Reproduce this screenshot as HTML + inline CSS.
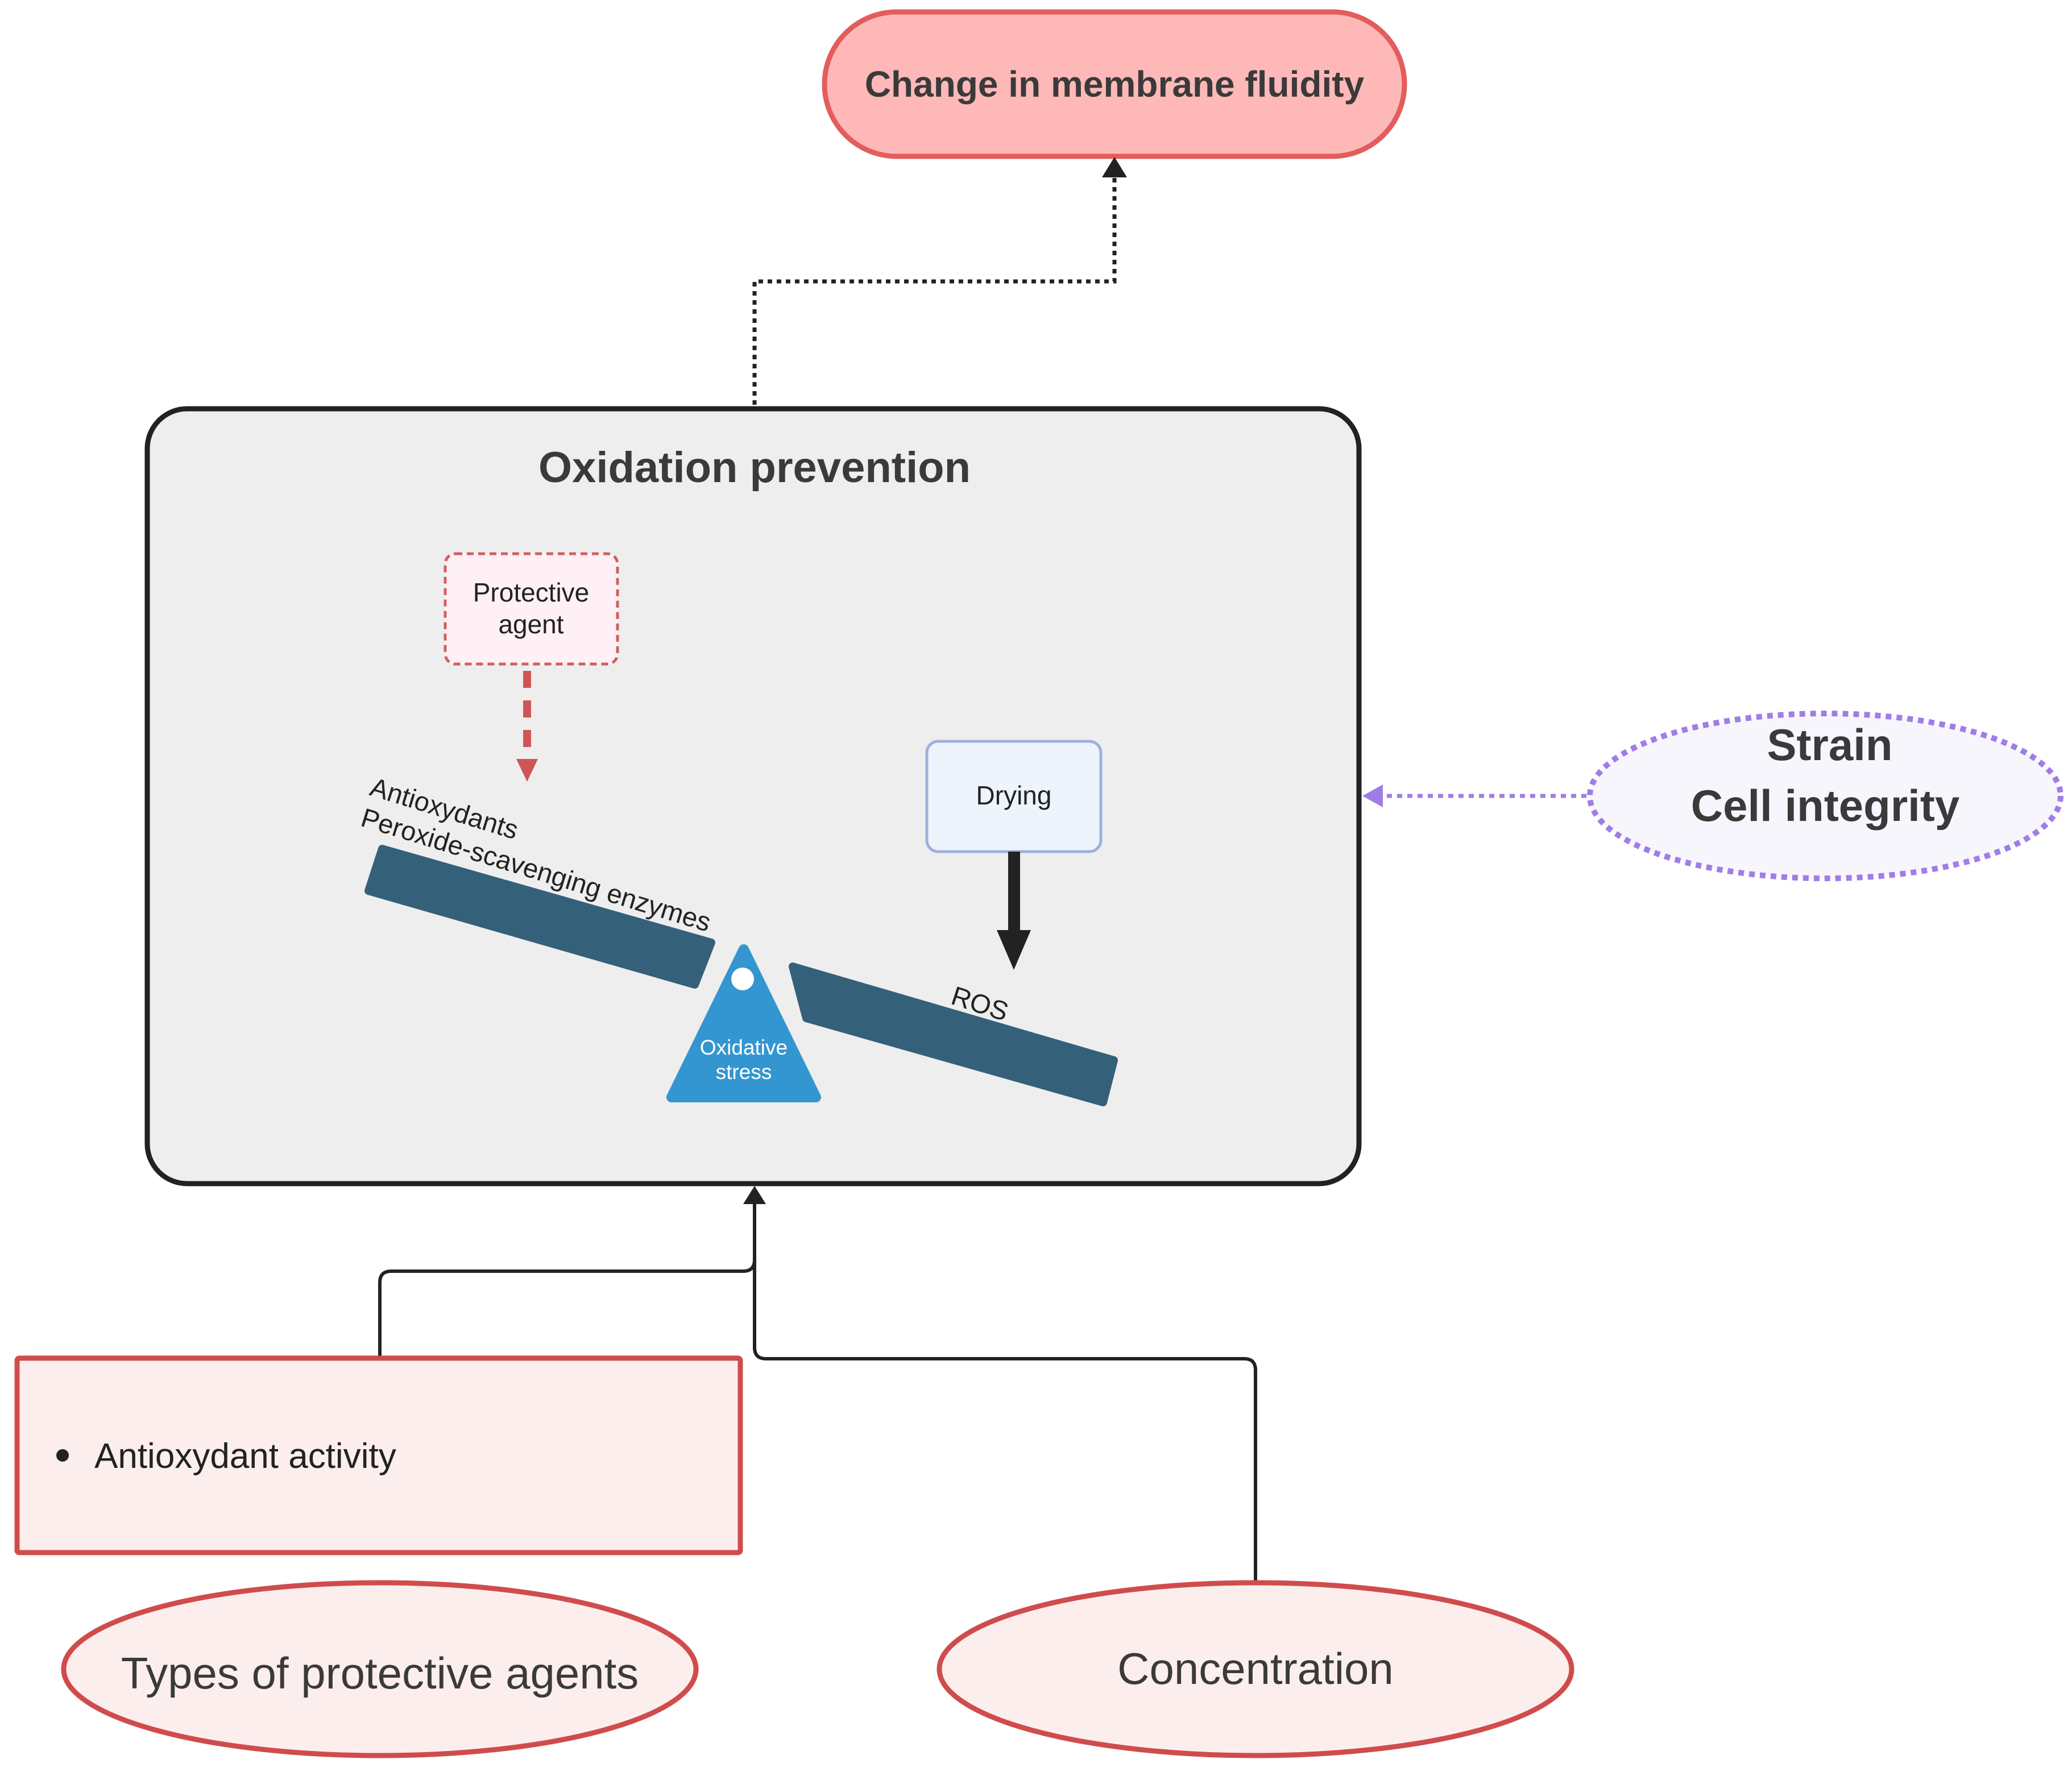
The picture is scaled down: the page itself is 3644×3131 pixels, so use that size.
<!DOCTYPE html>
<html><head><meta charset="utf-8"><style>
html,body{margin:0;padding:0;background:#fff}
svg{display:block}
text{font-family:"Liberation Sans",sans-serif}
</style></head><body>
<svg width="3644" height="3131" viewBox="0 0 3644 3131" xmlns="http://www.w3.org/2000/svg">
<!-- top pill -->
<rect x="1450" y="21" width="1020" height="254" rx="127" fill="#feb8b8" stroke="#e35d5d" stroke-width="9"/>
<text x="1960" y="170" font-size="64" font-weight="bold" fill="#3a3a3a" text-anchor="middle">Change in membrane fluidity</text>
<!-- dotted connector -->
<path d="M1327,712 L1327,495 L1960,495 L1960,310" fill="none" stroke="#222" stroke-width="7" stroke-dasharray="8,8"/>
<path d="M1938,312 L1960,276 L1982,312z" fill="#222"/>
<!-- main box -->
<rect x="259" y="719" width="2131" height="1363" rx="70" fill="#eeeeee" stroke="#222" stroke-width="9"/>
<text x="1327" y="848" font-size="76" font-weight="bold" fill="#3a3a3a" text-anchor="middle">Oxidation prevention</text>
<!-- protective agent -->
<rect x="783" y="974" width="303" height="194" rx="18" fill="#fff0f6" stroke="#d06060" stroke-width="5" stroke-dasharray="12,8"/>
<text x="934" y="1058" font-size="46" fill="#222" text-anchor="middle">Protective</text>
<text x="934" y="1114" font-size="46" fill="#222" text-anchor="middle">agent</text>
<line x1="927" y1="1180" x2="927" y2="1335" stroke="#cf5555" stroke-width="14" stroke-dasharray="30,22"/>
<path d="M908,1335 L946,1335 L927,1375z" fill="#cf5555"/>
<!-- labels -->
<text transform="translate(648,1398) rotate(17)" font-size="47" fill="#222">Antioxydants</text>
<text transform="translate(632,1452) rotate(17)" font-size="47" fill="#222">Peroxide-scavenging enzymes</text>
<!-- beams -->
<path d="M672,1493 L1251,1658 L1222,1732 L648,1567z" fill="#34607a" stroke="#34607a" stroke-width="14" stroke-linejoin="round"/>
<path d="M1394,1700 L1959,1865 L1940,1939 L1418,1791z" fill="#34607a" stroke="#34607a" stroke-width="14" stroke-linejoin="round"/>
<!-- fulcrum -->
<path d="M1308,1670 L1435,1930 L1181,1930z" fill="#3396d0" stroke="#3396d0" stroke-width="18" stroke-linejoin="round"/>
<circle cx="1306" cy="1722" r="20" fill="#fff"/>
<text x="1308" y="1855" font-size="37" fill="#fff" text-anchor="middle">Oxidative</text>
<text x="1308" y="1898" font-size="37" fill="#fff" text-anchor="middle">stress</text>
<!-- ROS -->
<text transform="translate(1670,1765) rotate(18)" font-size="47" fill="#222">ROS</text>
<!-- drying -->
<rect x="1630" y="1304" width="306" height="194" rx="20" fill="#eef4fc" stroke="#9db0dd" stroke-width="5"/>
<text x="1783" y="1415" font-size="46" fill="#222" text-anchor="middle">Drying</text>
<rect x="1773" y="1498" width="21" height="140" fill="#222"/>
<path d="M1753,1636 L1813,1636 L1783,1706z" fill="#222"/>
<!-- strain ellipse -->
<ellipse cx="3210" cy="1400" rx="414" ry="145" fill="#f7f6fd" stroke="#a07de6" stroke-width="10" stroke-dasharray="10,9"/>
<text x="3218" y="1337" font-size="78" font-weight="bold" fill="#3a3a3a" text-anchor="middle">Strain</text>
<text x="3210" y="1444" font-size="78" font-weight="bold" fill="#3a3a3a" text-anchor="middle">Cell integrity</text>
<line x1="2790" y1="1400" x2="2430" y2="1400" stroke="#a07de6" stroke-width="7" stroke-dasharray="9,9"/>
<path d="M2432,1380 L2396,1400 L2432,1420z" fill="#a07de6"/>
<!-- bottom connectors -->
<path d="M668,2387 L668,2256 Q668,2236 688,2236 L1307,2236 Q1327,2236 1327,2216 L1327,2115" fill="none" stroke="#222" stroke-width="6"/>
<path d="M2208,2780 L2208,2410 Q2208,2390 2188,2390 L1347,2390 Q1327,2390 1327,2370 L1327,2115" fill="none" stroke="#222" stroke-width="6"/>
<path d="M1307,2118 L1327,2086 L1347,2118z" fill="#222"/>
<!-- antioxydant box -->
<rect x="30" y="2389" width="1272" height="342" fill="#fdeeee" stroke="#d04c4c" stroke-width="9" rx="4"/>
<circle cx="110" cy="2560" r="11" fill="#222"/>
<text x="166" y="2582" font-size="62" fill="#222">Antioxydant activity</text>
<!-- ellipses -->
<ellipse cx="668" cy="2936" rx="556" ry="152" fill="#fdeeee" stroke="#d04c4c" stroke-width="9"/>
<text x="668" y="2970" font-size="78" fill="#3a3a3a" text-anchor="middle">Types of protective agents</text>
<ellipse cx="2208" cy="2936" rx="556" ry="152" fill="#fdeeee" stroke="#d04c4c" stroke-width="9"/>
<text x="2208" y="2962" font-size="78" fill="#3a3a3a" text-anchor="middle">Concentration</text>
</svg>
</body></html>
